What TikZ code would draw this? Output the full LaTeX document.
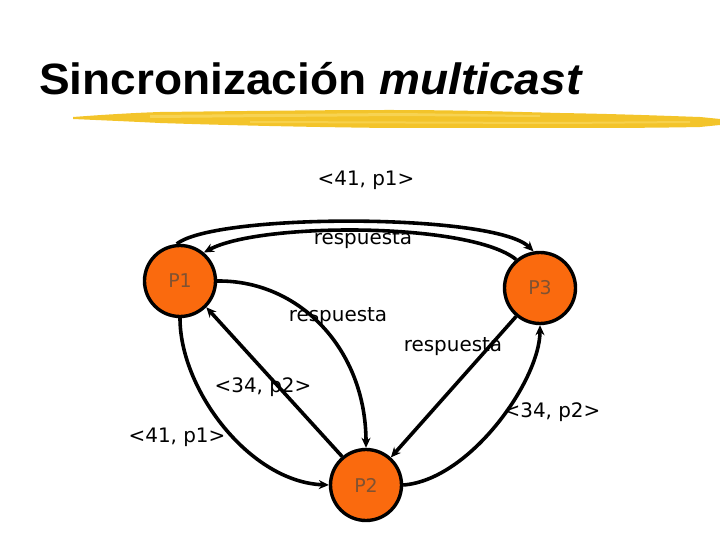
\documentclass[tikz,border=0pt]{standalone}
\usepackage{fontspec}
\setmainfont{DejaVu Sans}
\newfontfamily\titlefont{Liberation Sans}
\usetikzlibrary{arrows.meta}
\definecolor{procfill}{RGB}{250,106,14}
\definecolor{proctext}{RGB}{128,82,50}
\definecolor{brushA}{RGB}{243,196,42}
\definecolor{brushB}{RGB}{250,218,100}
\tikzset{
  proc/.style={circle, draw=black, line width=3.4pt, fill=procfill, minimum size=71bp, inner sep=0pt,
    text=proctext, font=\fontsize{19}{19}\selectfont},
  msg/.style={line width=3.6pt, -{Stealth[length=10bp,width=9bp]}},
  lbl/.style={font=\fontsize{20}{20}\selectfont, inner sep=0pt}
}
\begin{document}
\begin{tikzpicture}[x=1bp,y=-1bp]
\useasboundingbox (0,0) rectangle (720,540);
% title
\node[anchor=base west, inner sep=0pt, xscale=1.05, font=\titlefont\fontsize{44}{44}\selectfont\bfseries] (title) at (39,95) {Sincronización \textit{multicast}};
% brush stroke
\fill[brushA] (73,117) .. controls (100,115) and (130,113) .. (160,112) .. controls (250,111) and (320,110) .. (390,110) .. controls (460,110) and (520,112) .. (560,113) .. controls (620,114) and (670,116) .. (700,117) -- (720,119) -- (720,125) -- (700,127) .. controls (650,128) and (600,128) .. (560,128) -- (390,128) .. controls (300,127) and (220,125) .. (160,123) .. controls (120,121) and (95,120) .. (73,119) -- cycle;
\fill[brushB, opacity=0.7] (150,115) -- (400,113) -- (540,115) -- (540,117) -- (400,116) -- (150,118) -- cycle;
\fill[brushB, opacity=0.6] (250,121) -- (560,122) -- (690,121) -- (690,123) -- (560,124) -- (250,123) -- cycle;
% nodes
\node[proc] (P1) at (180,281) {P1};
\node[proc] (P3) at (540,288) {P3};
\node[proc] (P2) at (366,485) {P2};
% edges
\draw[msg] (P1.95) .. controls (215,213) and (495,213) .. (P3.100);
\draw[msg] (P3.130) .. controls (470,222) and (260,222) .. (P1.50);
\draw[msg] (P1.0) .. controls (300,280) and (366,350) .. (P2.90);
\draw[msg] (P2.130) -- (P1.-45);
\draw[msg] (P3.-130) -- (P2.48);
\draw[msg] (P1.-90) .. controls (180,390) and (250,482) .. (P2.180);
\draw[msg] (P2.0) .. controls (470,480) and (540,380) .. (P3.-90);
% labels
\node[lbl] (l1) at (366,180) {<41, p1>};
\node[lbl] (l2) at (363,240) {respuesta};
\node[lbl] (l3) at (338,317) {respuesta};
\node[lbl] (l4) at (453,347) {respuesta};
\node[lbl] (l5) at (263,387) {<34, p2>};
\node[lbl] (l6) at (177,437) {<41, p1>};
\node[lbl] (l7) at (552,412) {<34, p2>};
\end{tikzpicture}
\end{document}
